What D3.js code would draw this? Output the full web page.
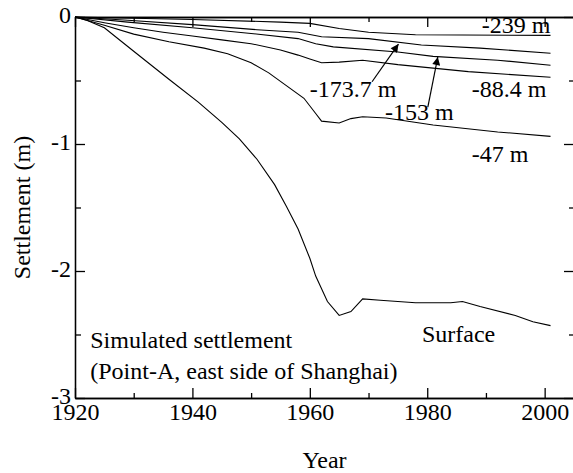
<!DOCTYPE html>
<html>
<head>
<meta charset="utf-8">
<script src="https://cdn.jsdelivr.net/npm/d3@7"></script>
<style>
  body { margin: 0; background: #fff; }
  svg text { font-family: "Liberation Serif", "Times New Roman", serif; fill: #000; }
</style>
</head>
<body>
<div id="chart"></div>
<script>
// settlement (m) at each depth
const yearsSurface = [1920, 1922, 1925, 1930, 1936, 1941, 1945, 1948, 1951, 1954, 1956, 1958, 1960, 1961, 1963, 1965, 1967, 1969, 1972, 1978, 1984, 1986, 1989, 1995, 1998, 2001];
const surface      = [0, -0.025, -0.085, -0.27, -0.49, -0.67, -0.83, -0.96, -1.12, -1.32, -1.49, -1.67, -1.90, -2.04, -2.24, -2.35, -2.32, -2.22, -2.23, -2.25, -2.25, -2.24, -2.28, -2.35, -2.40, -2.43];

const years47 = [1920, 1925, 1930, 1936, 1942, 1946, 1950, 1953, 1956, 1959, 1961, 1962, 1965, 1967, 1969, 1973, 1981, 1992, 2001];
const d47     = [0, -0.065, -0.135, -0.195, -0.245, -0.29, -0.36, -0.44, -0.54, -0.64, -0.76, -0.82, -0.835, -0.80, -0.785, -0.795, -0.85, -0.905, -0.94];

const years88 = [1920, 1925, 1930, 1935, 1940, 1945, 1950, 1955, 1958, 1960, 1962, 1965, 1969, 1975, 1987, 2001];
const d88     = [0, -0.045, -0.085, -0.12, -0.15, -0.18, -0.21, -0.26, -0.30, -0.33, -0.36, -0.355, -0.34, -0.375, -0.43, -0.475];

const years153 = [1920, 1929, 1940, 1950, 1958, 1961, 1964, 1975, 1981, 1992, 2001];
const d153     = [0, -0.04, -0.085, -0.13, -0.17, -0.21, -0.235, -0.275, -0.31, -0.34, -0.38];

const years173 = [1920, 1929, 1940, 1951, 1958, 1962, 1970, 1979, 1989, 2001];
const d173     = [0, -0.025, -0.06, -0.10, -0.12, -0.155, -0.17, -0.22, -0.245, -0.285];

const years239 = [1920, 1940, 1955, 1960, 1965, 1970, 1978, 2001];
const d239     = [0, -0.02, -0.04, -0.05, -0.09, -0.12, -0.14, -0.145];

const xTicks = [1920, 1940, 1960, 1980, 2000];
const xMinor = [1930, 1950, 1970, 1990];
const yTicks = [0, -1, -2, -3];
const yMinor = [-0.5, -1.5, -2.5];

// labels and arrows, in data units
const labels = [
  {text: "-239 m",   year: 1989.3, val: -0.126},
  {text: "-173.7 m", year: 1960.0, val: -0.63},
  {text: "-153 m",   year: 1972.8, val: -0.81},
  {text: "-88.4 m",  year: 1987.6, val: -0.63},
  {text: "-47 m",    year: 1987.6, val: -1.14},
  {text: "Surface",  year: 1979.1, val: -2.56}
];
const arrows = [
  {from: [1970.6, -0.51], to: [1975.1, -0.213]},
  {from: [1980.1, -0.71], to: [1981.8, -0.315]}
];
const note = ["Simulated settlement", "(Point-A, east side of Shanghai)"];

const width = 573, height = 473;
const margin = {top: 17, right: -1, bottom: 75, left: 75};

const svg = d3.select("#chart").append("svg")
  .attr("width", width)
  .attr("height", height);

const x = d3.scaleLinear().domain([1920, 2005]).range([margin.left, width - margin.right]);
const y = d3.scaleLinear().domain([0, -3]).range([margin.top, height - margin.bottom]);

const fontSize = 24;

function styleAxis(g){
  g.selectAll("path").attr("stroke", "#000").attr("stroke-width", 1.3);
  g.selectAll("line").attr("stroke", "#000").attr("stroke-width", 1.3);
  g.selectAll("text").attr("font-size", fontSize).attr("font-family", "Liberation Serif, serif");
}

// bottom
svg.append("g")
  .attr("transform", `translate(0, ${y(-3)})`)
  .call(d3.axisBottom(x).tickValues(xTicks).tickSize(-10).tickSizeOuter(0).tickPadding(5).tickFormat(d => String(d)))
  .call(styleAxis);
svg.append("g")
  .attr("transform", `translate(0, ${y(-3)})`)
  .call(d3.axisBottom(x).tickValues(xMinor).tickSize(-5).tickSizeOuter(0).tickFormat(""))
  .call(styleAxis);

// top
svg.append("g")
  .attr("transform", `translate(0, ${y(0)})`)
  .call(d3.axisTop(x).tickValues(xTicks).tickSize(-10).tickSizeOuter(0).tickFormat(""))
  .call(styleAxis);
svg.append("g")
  .attr("transform", `translate(0, ${y(0)})`)
  .call(d3.axisTop(x).tickValues(xMinor).tickSize(-5).tickSizeOuter(0).tickFormat(""))
  .call(styleAxis);

// left
svg.append("g")
  .attr("transform", `translate(${x(1920)}, 0)`)
  .call(d3.axisLeft(y).tickValues(yTicks).tickSize(-10).tickSizeOuter(0).tickPadding(4).tickFormat(d => String(d)))
  .call(styleAxis)
  .selectAll("text").attr("dy", "0.22em");
svg.append("g")
  .attr("transform", `translate(${x(1920)}, 0)`)
  .call(d3.axisLeft(y).tickValues(yMinor).tickSize(-6).tickSizeOuter(0).tickFormat(""))
  .call(styleAxis);

// right
svg.append("g")
  .attr("transform", `translate(${x(2005)}, 0)`)
  .call(d3.axisRight(y).tickValues(yTicks).tickSize(-10).tickSizeOuter(0).tickFormat(""))
  .call(styleAxis);
svg.append("g")
  .attr("transform", `translate(${x(2005)}, 0)`)
  .call(d3.axisRight(y).tickValues(yMinor).tickSize(-5).tickSizeOuter(0).tickFormat(""))
  .call(styleAxis);

// curves
const series = [
  {years: yearsSurface, vals: surface},
  {years: years47, vals: d47},
  {years: years88, vals: d88},
  {years: years153, vals: d153},
  {years: years173, vals: d173},
  {years: years239, vals: d239}
];

const line = d3.line()
  .x(d => x(d[0]))
  .y(d => y(d[1]));

svg.append("g")
  .selectAll("path")
  .data(series)
  .join("path")
  .attr("d", s => line(s.years.map((yr, i) => [yr, s.vals[i]])))
  .attr("fill", "none")
  .attr("stroke", "#000")
  .attr("stroke-width", 1.1);

// arrows
svg.append("defs").append("marker")
  .attr("id", "arrowhead")
  .attr("viewBox", "0 0 10 10")
  .attr("refX", 10).attr("refY", 5)
  .attr("markerWidth", 10).attr("markerHeight", 8)
  .attr("markerUnits", "userSpaceOnUse")
  .attr("orient", "auto")
  .append("path")
  .attr("d", "M0,0 L10,5 L0,10 Z")
  .attr("fill", "#000");

svg.append("g")
  .selectAll("line")
  .data(arrows)
  .join("line")
  .attr("x1", d => x(d.from[0])).attr("y1", d => y(d.from[1]))
  .attr("x2", d => x(d.to[0])).attr("y2", d => y(d.to[1]))
  .attr("stroke", "#000")
  .attr("stroke-width", 1.2)
  .attr("marker-end", "url(#arrowhead)");

// depth labels
svg.append("g")
  .selectAll("text")
  .data(labels)
  .join("text")
  .attr("x", d => x(d.year))
  .attr("y", d => y(d.val))
  .attr("font-size", fontSize)
  .text(d => d.text);

// note
svg.append("g")
  .selectAll("text")
  .data(note)
  .join("text")
  .attr("x", x(1922.6))
  .attr("y", (d, i) => y(-2.61) + i * 31)
  .attr("font-size", fontSize)
  .text(d => d);

// axis titles
svg.append("text")
  .attr("x", (x(1920) + x(2005)) / 2)
  .attr("y", 468)
  .attr("text-anchor", "middle")
  .attr("font-size", fontSize)
  .text("Year");

svg.append("text")
  .attr("transform", `translate(30, ${(y(0) + y(-3)) / 2}) rotate(-90)`)
  .attr("text-anchor", "middle")
  .attr("font-size", fontSize)
  .text("Settlement (m)");
</script>
</body>
</html>
